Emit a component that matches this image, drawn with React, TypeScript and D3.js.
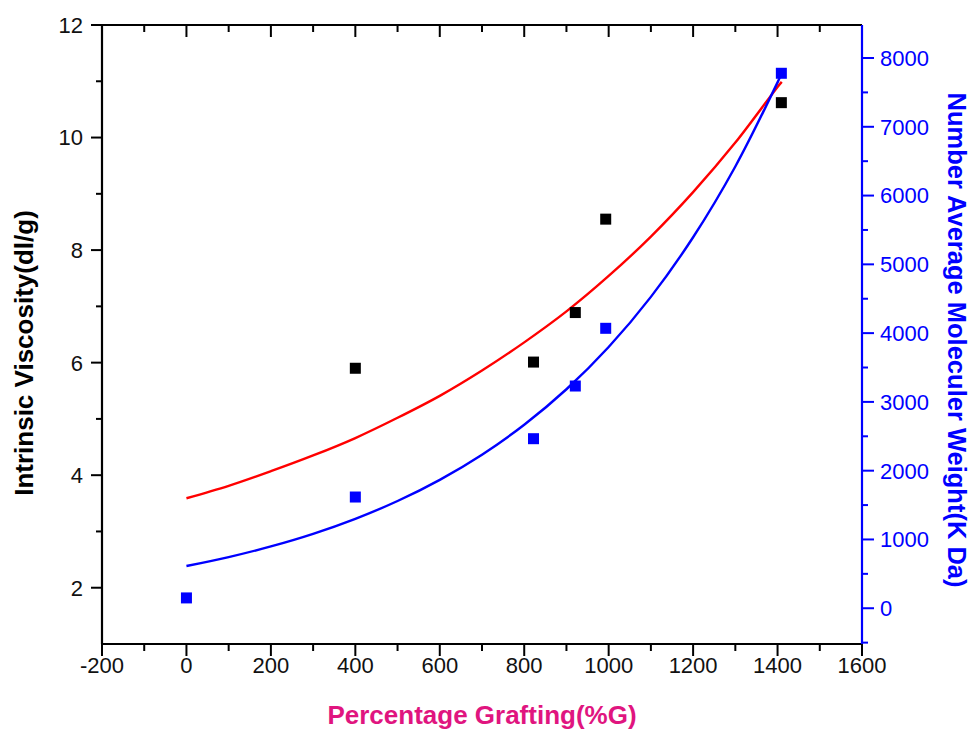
import React from "react";
import * as d3 from "d3";

// Black squares: intrinsic viscosity (left axis)
const viscX = [400, 822, 921, 993, 1409];
const viscosity = [5.9, 6.01, 6.89, 8.55, 10.62];

// Blue squares: number average molecular weight (right axis)
const mwX = [0, 400, 822, 921, 993, 1409];
const molWeight = [150, 1617, 2465, 3231, 4070, 7778];

// Fitted curves
const fitX = [0, 100, 200, 300, 400, 500, 600, 700, 800, 900, 1000, 1100, 1200, 1300, 1400, 1410];
const viscFit = [3.59, 3.81, 4.07, 4.35, 4.66, 5.02, 5.41, 5.86, 6.36, 6.91, 7.54, 8.24, 9.03, 9.91, 10.9, 10.99];
const mwFit = [614, 744, 899, 1082, 1300, 1559, 1867, 2233, 2668, 3184, 3798, 4527, 5394, 6423, 7646, 7780];

const xMajor = [-200, 0, 200, 400, 600, 800, 1000, 1200, 1400, 1600];
const xMinor = [-100, 100, 300, 500, 700, 900, 1100, 1300, 1500];
const yLMajor = [2, 4, 6, 8, 10, 12];
const yLMinor = [3, 5, 7, 9, 11];
const yRMajor = [0, 1000, 2000, 3000, 4000, 5000, 6000, 7000, 8000];
const yRMinor = [-500, 500, 1500, 2500, 3500, 4500, 5500, 6500, 7500];

const W = 975;
const H = 731;
const L = 102, R = 862, T = 25, B = 644;
const FONT = "'Liberation Sans', Arial, sans-serif";
const BLUE = "#0000ff";
const MAGENTA = "#e0157f";

export default function App() {
  const x = d3.scaleLinear().domain([-200, 1600]).range([L, R]);
  const yL = d3.scaleLinear().domain([1, 12]).range([B, T]);
  const yR = d3.scaleLinear().domain([-520, 8480]).range([B, T]);

  const redLine = d3
    .line<number>()
    .x((_, i) => x(fitX[i]))
    .y((d) => yL(d))
    .curve(d3.curveCatmullRom)(viscFit) as string;
  const blueLine = d3
    .line<number>()
    .x((_, i) => x(fitX[i]))
    .y((d) => yR(d))
    .curve(d3.curveCatmullRom)(mwFit) as string;

  const sq = 11;

  return (
    <svg
      width={W}
      height={H}
      style={{ position: "absolute", left: 0, top: 0, background: "#fff" }}
      fontFamily={FONT}
    >
      <rect x={0} y={0} width={W} height={H} fill="#fff" />

      {/* curves */}
      <path d={redLine} fill="none" stroke="#ff0000" strokeWidth={2.4} />
      <path d={blueLine} fill="none" stroke={BLUE} strokeWidth={2.4} />

      {/* points */}
      {viscX.map((v, i) => (
        <rect key={"k" + i} x={x(v) - sq / 2} y={yL(viscosity[i]) - sq / 2} width={sq} height={sq} fill="#000" />
      ))}
      {mwX.map((v, i) => (
        <rect key={"b" + i} x={x(v) - sq / 2} y={yR(molWeight[i]) - sq / 2} width={sq} height={sq} fill={BLUE} />
      ))}

      {/* bottom axis */}
      <line x1={L} x2={R} y1={B} y2={B} stroke="#000" strokeWidth={2.2} />
      {xMajor.map((v) => (
        <g key={"xm" + v}>
          <line x1={x(v)} x2={x(v)} y1={B} y2={B + 12} stroke="#000" strokeWidth={2} />
          <text x={x(v)} y={B + 29} textAnchor="middle" fontSize={22} fill="#111">
            {v}
          </text>
        </g>
      ))}
      {xMinor.map((v) => (
        <line key={"xn" + v} x1={x(v)} x2={x(v)} y1={B} y2={B + 7} stroke="#000" strokeWidth={2} />
      ))}

      {/* top axis */}
      <line x1={L} x2={R} y1={T} y2={T} stroke="#000" strokeWidth={2.2} />
      {xMajor.map((v) => (
        <line key={"tm" + v} x1={x(v)} x2={x(v)} y1={T} y2={T + 12} stroke="#000" strokeWidth={2} />
      ))}
      {xMinor.map((v) => (
        <line key={"tn" + v} x1={x(v)} x2={x(v)} y1={T} y2={T + 7} stroke="#000" strokeWidth={2} />
      ))}

      {/* left axis */}
      <line x1={L} x2={L} y1={T} y2={B} stroke="#000" strokeWidth={2.2} />
      {yLMajor.map((v) => (
        <g key={"lm" + v}>
          <line x1={L - 11} x2={L} y1={yL(v)} y2={yL(v)} stroke="#000" strokeWidth={2} />
          <text x={L - 19} y={yL(v)} dy="0.36em" textAnchor="end" fontSize={22} fill="#111">
            {v}
          </text>
        </g>
      ))}
      {yLMinor.map((v) => (
        <line key={"ln" + v} x1={L - 6} x2={L} y1={yL(v)} y2={yL(v)} stroke="#000" strokeWidth={2} />
      ))}

      {/* right axis */}
      <line x1={R} x2={R} y1={T} y2={B} stroke={BLUE} strokeWidth={2.2} />
      {yRMajor.map((v) => (
        <g key={"rm" + v}>
          <line x1={R} x2={R + 12} y1={yR(v)} y2={yR(v)} stroke={BLUE} strokeWidth={2} />
          <text x={R + 18} y={yR(v)} dy="0.36em" textAnchor="start" fontSize={22} fill={BLUE}>
            {v}
          </text>
        </g>
      ))}
      {yRMinor.map((v) => (
        <line key={"rn" + v} x1={R} x2={R + 6} y1={yR(v)} y2={yR(v)} stroke={BLUE} strokeWidth={2} />
      ))}

      {/* titles */}
      <text
        transform={`translate(33,353) rotate(-90)`}
        textAnchor="middle"
        fontSize={26}
        fontWeight="bold"
        fill="#000"
      >
        Intrinsic Viscosity(dl/g)
      </text>
      <text
        transform={`translate(948,340) rotate(90)`}
        textAnchor="middle"
        fontSize={25.5}
        fontWeight="bold"
        fill={BLUE}
      >
        Number Average Moleculer Weight(K Da)
      </text>
      <text x={482} y={724} textAnchor="middle" fontSize={26} fontWeight="bold" fill={MAGENTA}>
        Percentage Grafting(%G)
      </text>
    </svg>
  );
}
